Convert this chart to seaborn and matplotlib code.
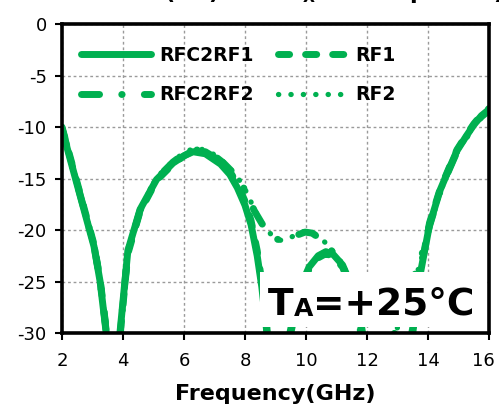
import numpy as np
import pandas as pd
import matplotlib
matplotlib.use('Agg')
import matplotlib.pyplot as plt
import matplotlib.transforms as mtransforms
import seaborn as sns

# 读图得到的数据 (Frequency in GHz, return loss in dB)
freq_rf1 = [2.0, 2.35, 2.7, 3.05, 3.25, 3.45, 3.65, 3.9, 4.16, 4.56, 5.1, 5.64, 6.0, 6.3,
            6.7, 7.2, 7.5, 7.75, 8.0, 8.2, 8.4, 8.55, 8.7, 9.0, 9.4, 9.6, 9.85, 10.1,
            10.4, 10.65, 10.9, 11.2, 11.5, 11.8, 12.4, 13.1, 13.5, 13.75, 14.05, 14.4,
            14.7, 14.95, 15.25, 15.5, 15.75, 16.0]
rfc2rf1 = [-10.2, -14.0, -17.8, -21.6, -25.0, -30.0, -40.0, -30.0, -22.0, -18.0, -15.1,
           -13.5, -12.8, -12.4, -12.6, -13.6, -14.6, -15.9, -17.6, -19.5, -22.5, -25.5,
           -29.5, -40.0, -31.0, -28.2, -25.3, -23.6, -22.5, -22.1, -22.4, -23.4, -25.5,
           -29.0, -40.0, -36.0, -30.0, -24.2, -19.5, -16.1, -14.0, -12.3, -10.9, -9.8,
           -8.9, -8.3]
rf1 = [-10.0, -13.8, -17.6, -21.4, -24.8, -29.6, -40.0, -30.4, -22.3, -18.2, -15.2,
       -13.6, -12.8, -12.3, -12.4, -13.3, -14.3, -15.5, -17.2, -19.1, -22.0, -25.0,
       -28.8, -40.0, -31.5, -28.6, -25.6, -23.8, -22.7, -22.3, -22.6, -23.6, -25.8,
       -29.4, -40.0, -35.5, -29.5, -24.0, -19.3, -16.0, -13.9, -12.2, -10.8, -9.7,
       -8.8, -8.2]

freq_rf2 = [2.0, 2.35, 2.7, 3.05, 3.25, 3.45, 3.65, 3.9, 4.16, 4.56, 5.1, 5.64, 6.0, 6.3,
            6.7, 7.0, 7.3, 7.6, 7.9, 8.1, 8.3, 8.6, 8.9, 9.15, 9.45, 9.7, 9.97, 10.2,
            10.4, 10.7, 11.0, 11.2, 11.5, 11.8, 12.3, 12.9, 13.3, 13.7, 14.05, 14.4,
            14.7, 14.95, 15.25, 15.5, 15.75, 16.0]
rfc2rf2 = [-10.1, -13.9, -17.7, -21.5, -24.9, -29.8, -40.0, -30.2, -22.1, -18.1, -15.0,
           -13.4, -12.6, -12.2, -12.3, -12.8, -13.5, -14.4, -15.6, -16.7, -18.1, -19.6,
           -20.7, -21.0, -20.9, -20.5, -20.2, -20.3, -20.7, -21.5, -22.6, -23.4, -26.0,
           -30.0, -40.0, -30.0, -26.0, -23.5, -19.6, -16.2, -14.1, -12.4, -11.0, -9.9,
           -9.0, -8.4]
rf2 = [-10.0, -13.8, -17.6, -21.4, -24.8, -29.6, -40.0, -30.4, -22.2, -18.0, -14.9,
       -13.3, -12.5, -12.1, -12.2, -12.7, -13.4, -14.3, -15.5, -16.6, -18.0, -19.5,
       -20.6, -21.0, -20.8, -20.4, -20.1, -20.2, -20.6, -21.4, -22.5, -23.3, -25.8,
       -29.6, -40.0, -30.5, -26.3, -23.7, -19.8, -16.3, -14.2, -12.5, -11.0, -9.9,
       -9.0, -8.4]

x_ticks = [2, 4, 6, 8, 10, 12, 14, 16]
y_ticks = [0, -5, -10, -15, -20, -25, -30]

GREEN = '#00B050'

sns.set_style('whitegrid')
plt.rcParams['font.family'] = ['DejaVu Sans']
plt.rcParams['axes.unicode_minus'] = False
for key in ['text.color', 'axes.labelcolor', 'xtick.color', 'ytick.color']:
    plt.rcParams[key] = 'black'

fig = plt.figure(figsize=(4.99, 4.12), dpi=100)
ax = fig.add_axes([0.1242, 0.1917, 0.8558, 0.75])

series = [
    ('RFC2RF1', freq_rf1, rfc2rf1, '-', 5),
    ('RFC2RF2', freq_rf2, rfc2rf2, (0, (2.6, 3.2, 0.05, 3.2)), 5),
    ('RF1', freq_rf1, rf1, (0, (1.6, 2.3)), 5),
    ('RF2', freq_rf2, rf2, (0, (0.05, 2.3)), 3.8),
]
# 按绘制顺序：实线在下，点线在上
draw_order = ['RFC2RF1', 'RF1', 'RFC2RF2', 'RF2']
handles = {}
for name in draw_order:
    _, fx, fy, ls, lw = [s for s in series if s[0] == name][0]
    df = pd.DataFrame({'Frequency': fx, 'dB': fy})
    sns.lineplot(data=df, x='Frequency', y='dB', ax=ax, color=GREEN, lw=lw,
                 linestyle=ls, dash_capstyle='round', solid_capstyle='round',
                 label=name, legend=False, zorder=3)
    handles[name] = ax.lines[-1]

ax.set_xlim(2, 16)
ax.set_ylim(-30, 0)
ax.set_xticks(x_ticks)
ax.set_yticks(y_ticks)
ax.tick_params(axis='both', labelsize=13, length=5, width=1.5, color='black',
               labelcolor='black', direction='out', left=True, bottom=True)
ax.tick_params(axis='x', pad=9)
ax.tick_params(axis='y', pad=6)
# 最右侧刻度标签略向左移，避免被裁
last = ax.get_xticklabels()[-1]
last.set_transform(last.get_transform() +
                   mtransforms.ScaledTranslation(-4 / 72, 0, fig.dpi_scale_trans))
ax.grid(True, color='#9a9a9a', linestyle=(0, (2, 2)), linewidth=1.0)
for sp in ax.spines.values():
    sp.set_color('black')
    sp.set_linewidth(2.6)
    sp.set_zorder(5)
ax.set_xlabel('Frequency(GHz)', fontsize=16, fontweight='bold', labelpad=10)
ax.set_ylabel('')

leg = ax.legend([handles[n] for n in ['RFC2RF1', 'RFC2RF2', 'RF1', 'RF2']],
                ['RFC2RF1', 'RFC2RF2', 'RF1', 'RF2'],
                ncol=2, loc='upper left', bbox_to_anchor=(0.045, 0.93),
                frameon=False, borderaxespad=0, borderpad=0,
                handlelength=3.7, handletextpad=0.45, columnspacing=1.3,
                labelspacing=1.1, prop={'weight': 'bold', 'size': 13.5})

# 温度标注（白底）
box = plt.Rectangle((0.464, 0.02), 0.531, 0.177, transform=ax.transAxes,
                    facecolor='white', edgecolor='none', zorder=4)
ax.add_patch(box)
t1 = ax.text(0.482, 0.058, 'T', transform=ax.transAxes, fontsize=27,
             fontweight='bold', va='baseline', ha='left', zorder=6)
t2 = ax.annotate('A', xy=(1, 0.07), xycoords=t1, fontsize=18, fontweight='bold',
                 va='bottom', ha='left', zorder=6)
ax.annotate('=+25°C', xy=(1, 0), xycoords=t2, xytext=(0, -1.6),
            textcoords='offset points', fontsize=27, fontweight='bold',
            va='bottom', ha='left', zorder=6)

# 顶部被裁掉的标题
fig.text(0.016, 0.987, r'Return Loss (dB) vs. RF$_\mathbf{X}$ at Temp=+25)',
         fontsize=16, fontweight='bold', va='bottom', ha='left')

fig.savefig('out.png', dpi=100)
